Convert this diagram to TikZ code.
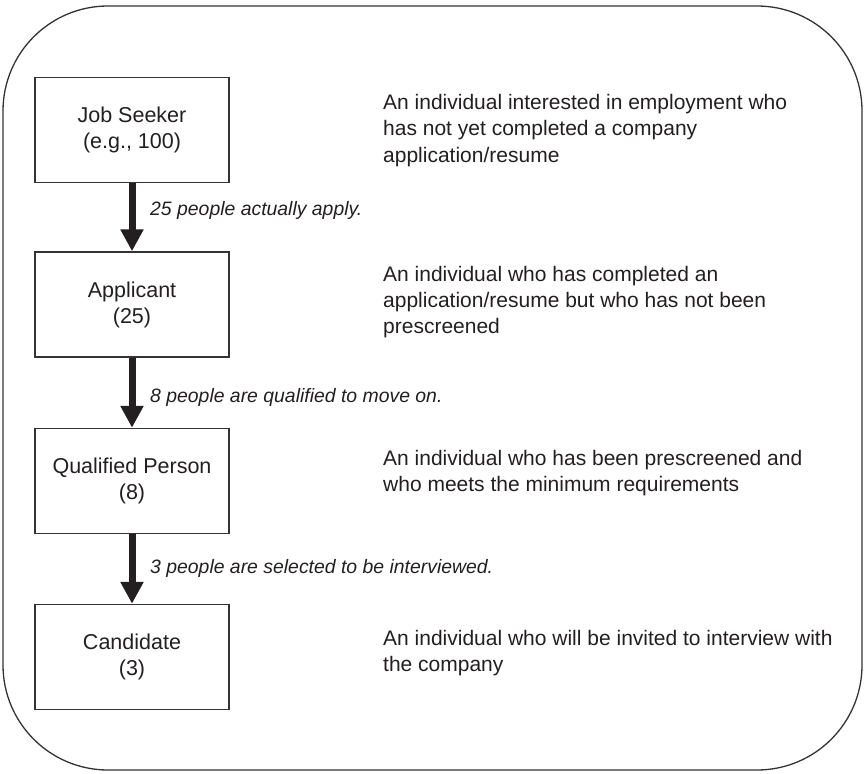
\documentclass[tikz,border=0pt]{standalone}
\usepackage{fontspec}
\setmainfont{Liberation Sans}
\usetikzlibrary{arrows.meta}
\definecolor{ink}{HTML}{231F20}
\definecolor{rule}{HTML}{333333}
\newcommand\textlines[1]{\begin{tabular}[t]{@{}l@{}}#1\end{tabular}}
\tikzset{
  stage/.style={draw=rule, line width=1.5pt, minimum width=194pt, minimum height=105pt,
    align=center, text=ink, font=\fontsize{21.5}{26}\selectfont, inner sep=0pt},
  flow/.style={draw=ink, line width=7pt, -{Triangle[width=22pt,length=22pt]}},
  flowlabel/.style={anchor=base west, text=ink, inner sep=0pt,
    font=\fontsize{19.4}{24}\selectfont\itshape},
  desc/.style={anchor=base west, text=ink, inner sep=0pt,
    font=\fontsize{21}{26}\selectfont},
  frame/.style={draw=rule, line width=1.3pt, rounded corners=105pt}
}
\begin{document}
\begin{tikzpicture}[x=1pt, y=-1pt]
  \useasboundingbox (0,0) rectangle (866,773);
  % outer rounded frame
  \path[frame] (3,6) rectangle (862,770);

  % stages of the funnel
  \node[stage] (seeker)    at (132,130)   {Job Seeker\\(e.g., 100)};
  \node[stage] (applicant) at (132,304.5) {Applicant\\(25)};
  \node[stage] (qualified) at (132,481)   {Qualified Person\\(8)};
  \node[stage] (candidate) at (132,657)   {Candidate\\(3)};

  % transitions
  \draw[flow] (seeker) -- (applicant);
  \draw[flow] (applicant) -- (qualified);
  \draw[flow] (qualified) -- (candidate);

  \node[flowlabel] (l1) at (150,215) {25 people actually apply.};
  \node[flowlabel] (l2) at (150,402) {8 people are qualified to move on.};
  \node[flowlabel] (l3) at (150,573) {3 people are selected to be interviewed.};

  % definitions
  \node[desc] (d1) at (383,110) {\textlines{An individual interested in employment who\\has not yet completed a company\\application/resume}};
  \node[desc] (d2) at (383,281) {\textlines{An individual who has completed an\\application/resume but who has not been\\prescreened}};
  \node[desc] (d3) at (383,465) {\textlines{An individual who has been prescreened and\\who meets the minimum requirements}};
  \node[desc] (d4) at (383,645) {\textlines{An individual who will be invited to interview with\\the company}};
\end{tikzpicture}
\end{document}
